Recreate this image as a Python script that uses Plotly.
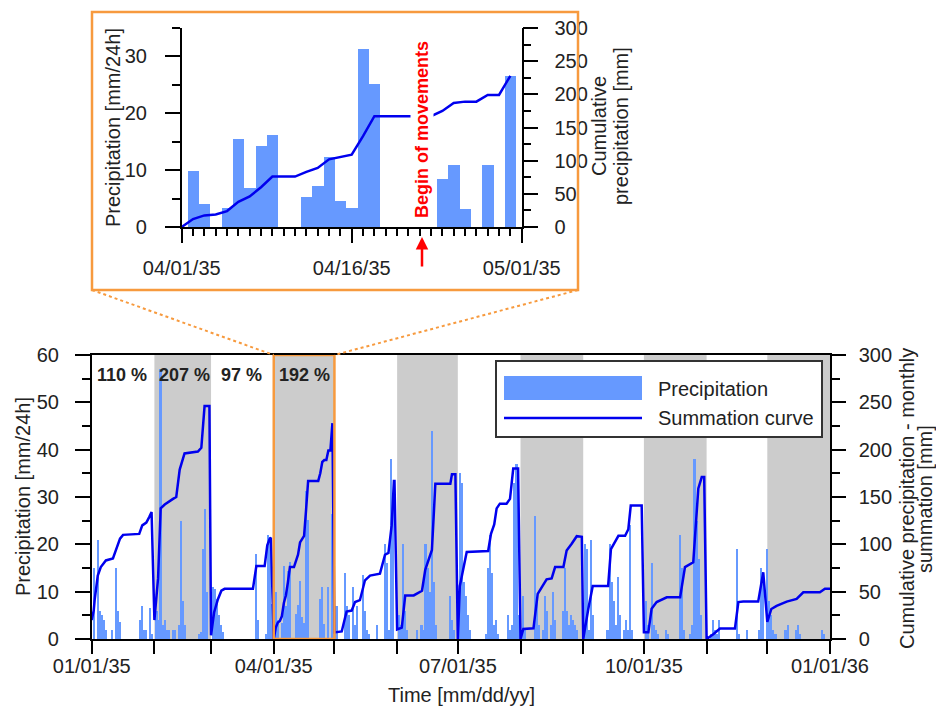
import plotly.graph_objects as go
import pandas as pd

# the page adds an 8 px body margin, so the figure is 16 px smaller than the window
W, H = 928, 699
OFF = 8
FONT = "Liberation Sans, Arial, sans-serif"
BAR_COLOR = "#6699FF"
LINE_COLOR = "#0000EE"
ORANGE = "#F79A3E"
GRAY = "#CCCCCC"

# ---------------- data ----------------
# daily precipitation [mm/24h], one value per day of the month
precip_jan = [15, 0, 21, 6, 5, 4, 2, 0, 0, 2, 0, 15, 6, 3.5, 0, 0, 0, 0, 0, 0, 0, 0, 0, 4, 7, 2, 2, 0, 6.5, 1, 0]
precip_feb = [6, 4, 57, 3, 4, 2, 2, 0, 2, 2, 0, 3, 25, 8, 3, 0, 0, 0, 0, 0, 0, 1, 1.5, 19, 27.5, 10, 0, 0]
precip_mar = [11, 10.5, 8.5, 5, 3, 1.5, 0, 0, 0, 0, 0, 0, 0, 0, 0, 0, 0, 0, 0, 0, 0, 18, 4, 0, 0, 0, 1, 22, 21.5, 7.5, 0]
precip_apr = [9.9, 4.0, 0, 3.3, 15.5, 6.9, 14.3, 16.2, 0, 0, 5.3, 7.2, 12.3, 4.6, 3.3, 31.3, 25.2, 0, 0, 0, 0, 0, 8.4, 10.9, 3.2, 0, 10.9, 0, 26.5, 0]
precip_may = [7, 0, 0, 0, 14, 7, 5, 0, 11, 3, 7, 0, 0, 13.5, 6, 2, 1, 0, 0, 0, 3, 0, 0, 0, 20, 16, 2, 38, 30, 0, 0]
precip_jun = [5, 3, 20, 6, 2, 0, 0, 0, 0, 2, 0, 3, 2, 20, 15, 10, 44, 12, 3, 0, 0, 0, 0, 0, 0, 9, 4, 2, 0, 0]
precip_jul = [35, 33, 12, 9, 5, 2, 0, 0, 0, 0, 0, 0, 0, 1, 15, 22, 14, 3, 4, 1, 0, 0, 0, 0, 5, 2, 3, 33, 37, 5, 0]
precip_aug = [9, 2, 0, 0, 0, 0, 26, 8, 3, 0, 2, 9, 6, 0, 3, 10, 4, 0, 0, 0, 6, 15, 6, 3, 5, 4, 3, 2, 0, 0, 0]
precip_sep = [20, 19, 2, 21, 5, 0, 0, 0, 0, 0, 0, 2, 20, 12, 8, 3, 13, 5, 0, 2, 4, 2, 24, 2, 0, 0, 0, 0, 0, 0]
precip_oct = [8, 3, 0, 16, 3, 2, 1, 0, 0, 0, 2, 1, 0, 0, 0, 0, 0, 22, 15, 2, 0, 0, 1, 3, 38, 25, 17, 5, 0, 0, 0]
precip_nov = [0, 1, 4, 2, 1, 4, 0, 0, 0, 0, 0, 0, 0, 0, 19, 1, 0, 0, 0, 2, 0, 0, 0, 0, 0, 2, 15, 14, 0, 19]
precip_dec = [8, 5, 2, 1, 0, 0, 0, 0, 2, 3, 0, 0, 0, 2, 3, 1, 0, 0, 0, 0, 0, 0, 0, 0, 0, 0, 2, 1, 0, 0, 0]

# monthly summation curve [mm]: (days after the 1st of the month, cumulative value)
sum_jan = [(0, 20), (1, 30), (1.5, 42), (3, 67), (4.5, 76), (7, 83), (10.5, 85), (12, 94), (14, 106), (15.5, 110), (23.5, 111), (25, 120), (27, 123), (28.5, 129), (29.6, 134)]
sum_feb = [(0, 20), (1.8, 64), (3.1, 138), (5.1, 142), (9.2, 148), (10.8, 150), (12.5, 179), (14.9, 196), (21.5, 198), (23.2, 202), (24.8, 246), (27.2, 246)]
sum_mar = [(0, 4), (1.5, 28), (3.4, 42), (5.1, 51), (6.7, 53), (20.7, 53), (22.4, 77), (26.5, 77), (27.8, 99), (29, 106), (29.6, 107)]
sum_apr = [(0, 0), (1, 12), (2, 17.5), (3, 19), (4, 24), (5, 38), (6, 46), (7, 60), (8, 76), (10, 76), (11, 83), (12, 89), (13, 102), (14, 106), (15, 109), (16, 137), (17, 167), (22, 167), (23, 175), (24, 187), (25, 189), (26, 189), (27, 199), (28, 199), (29, 228)]
sum_may = [(0, 7), (3.6, 8), (6, 29), (8.5, 30), (10.2, 39), (12.6, 41), (15.1, 62), (17.6, 67), (22.5, 69), (25, 89), (26.7, 91), (28.3, 120), (29.4, 167), (29.7, 167)]
sum_jun = [(0, 10), (2.3, 12), (4, 46), (8.2, 46), (12.3, 51), (13.9, 73), (17.2, 94), (18.9, 164), (26.3, 164), (27.1, 174), (28.8, 174)]
sum_jul = [(0, 0), (1, 56), (2.2, 70), (4.4, 92), (15, 93), (16.4, 111), (18, 121), (19.2, 138), (20.8, 143), (24.1, 143), (25.8, 148), (27.4, 180), (29.8, 180)]
sum_aug = [(0, 0), (1.4, 10.6), (6.4, 11.3), (8.5, 47.6), (12.9, 63), (15.4, 64), (17.1, 76), (21.2, 76), (22.8, 93.5), (25.3, 100.6), (27.8, 108.6), (30.3, 108)]
sum_sep = [(0, 0), (2.5, 31.7), (4.7, 56), (12.3, 56), (13.7, 95), (17.4, 109), (20.7, 109), (22.3, 116), (23.5, 141), (28.9, 141)]
sum_oct = [(0, 7), (2.2, 7), (3.8, 32), (6.3, 39), (11.3, 44), (17.9, 44), (20.3, 76), (24.4, 81), (26.9, 159), (28.6, 171), (29.8, 171)]
sum_nov = [(0, 0), (3.3, 5), (6.6, 11), (14, 11), (15.7, 39), (18.1, 39.5), (25.5, 39.5), (28, 70.5)]
sum_dec = [(0, 18), (2, 31.7), (4.6, 35), (9.6, 39.5), (14.5, 42.3), (17.8, 49.3), (26, 49.3), (28.5, 53), (31, 53)]

# monthly percentage labels (first four months)
pct_months = ["2035-01-01", "2035-02-01", "2035-03-01", "2035-04-01"]
pct_labels = ["110 %", "207 %", "97 %", "192 %"]

main_tick_labels = ["01/01/35", "", "", "04/01/35", "", "", "07/01/35", "", "", "10/01/35", "", "", "01/01/36"]
inset_tick_dates = ["2035-04-01", "2035-04-16", "2035-05-01"]
inset_tick_labels = ["04/01/35", "04/16/35", "05/01/35"]
shaded_months = ["2035-02-01", "2035-04-01", "2035-06-01", "2035-08-01", "2035-10-01", "2035-12-01"]

# ---------------- build series ----------------
month_starts = pd.date_range("2035-01-01", periods=12, freq="MS")
precip_months = [precip_jan, precip_feb, precip_mar, precip_apr, precip_may, precip_jun,
                 precip_jul, precip_aug, precip_sep, precip_oct, precip_nov, precip_dec]
sum_months = [sum_jan, sum_feb, sum_mar, sum_apr, sum_may, sum_jun,
              sum_jul, sum_aug, sum_sep, sum_oct, sum_nov, sum_dec]


def fmt(ts):
    return ts.strftime("%Y-%m-%d %H:%M:%S")


def bars_for(start, vals):
    # daily totals are drawn at the end of their day
    return [fmt(start + pd.Timedelta(days=i + 1)) for i in range(len(vals))], list(vals)


def curve_for(start, pts):
    return [fmt(start + pd.Timedelta(days=d)) for d, _ in pts], [c for _, c in pts]


bar_x, bar_y, cur_x, cur_y = [], [], [], []
for st, vals, pts in zip(month_starts, precip_months, sum_months):
    bx, by = bars_for(st, vals)
    bar_x += bx
    bar_y += by
    cx, cy = curve_for(st, pts)
    cur_x += cx
    cur_y += cy

apr_bx, apr_by = bars_for(month_starts[3], precip_apr)
apr_cx, apr_cy = curve_for(month_starts[3], sum_apr)

DAY_MS = 86400000

fig = go.Figure()
fig.add_trace(go.Bar(x=bar_x, y=bar_y, width=0.8 * DAY_MS, marker=dict(color=BAR_COLOR, line=dict(width=0)),
                     xaxis="x", yaxis="y", name="Precipitation"))
fig.add_trace(go.Scatter(x=cur_x, y=cur_y, mode="lines", line=dict(color=LINE_COLOR, width=2.5),
                         xaxis="x", yaxis="y2", name="Summation curve"))
fig.add_trace(go.Bar(x=apr_bx, y=apr_by, width=DAY_MS, marker=dict(color=BAR_COLOR, line=dict(width=0)),
                     xaxis="x2", yaxis="y3"))
fig.add_trace(go.Scatter(x=apr_cx, y=apr_cy, mode="lines", line=dict(color=LINE_COLOR, width=2.5),
                         xaxis="x2", yaxis="y4"))


def px(x):
    # window pixel -> paper fraction
    return (x - OFF) / W


def py(y):
    return 1 - (y - OFF) / H


tickfont = dict(family=FONT, size=20, color="#222")
axis_common = dict(showgrid=False, zeroline=False, showline=True, linecolor="black", linewidth=1.5,
                   ticks="outside", tickcolor="black", tickwidth=1.5, tickfont=tickfont,
                   automargin=False)

month_ticks = [fmt(t) for t in pd.date_range("2035-01-01", periods=13, freq="MS")]

fig.update_layout(
    template="none",
    width=W, height=H, margin=dict(l=0, r=0, t=0, b=0, pad=0),
    paper_bgcolor="white", plot_bgcolor="white", showlegend=False, bargap=0,
    font=dict(family=FONT, color="#222"),
    xaxis=dict(**axis_common, type="date", domain=[px(91.7), px(830)], anchor="y",
               range=["2035-01-01", "2036-01-01"], tickmode="array", tickvals=month_ticks,
               ticktext=main_tick_labels, ticklen=13, mirror=True, ticklabelstandoff=-5),
    yaxis=dict(**axis_common, domain=[py(639), py(355)], anchor="x", range=[0, 60],
               tickmode="array", tickvals=[0, 10, 20, 30, 40, 50, 60], ticklen=15,
               ticklabelstandoff=12,
               minor=dict(ticks="outside", ticklen=8, dtick=5, tick0=0, tickcolor="black", tickwidth=1.5)),
    yaxis2=dict(**axis_common, overlaying="y", side="right", anchor="x", range=[0, 300],
                tickmode="array", tickvals=[0, 50, 100, 150, 200, 250, 300], ticklen=14,
                ticklabelstandoff=9,
                minor=dict(ticks="outside", ticklen=8, dtick=25, tick0=0, tickcolor="black", tickwidth=1.5)),
    xaxis2=dict(**axis_common, type="date", domain=[px(181.7), px(521.7)], anchor="y3",
                range=["2035-04-01", "2035-05-01"], tickmode="array", tickvals=inset_tick_dates,
                ticktext=inset_tick_labels, ticklen=14, ticklabelstandoff=8,
                minor=dict(ticks="outside", ticklen=7, dtick=DAY_MS, tick0="2035-04-01",
                           tickcolor="black", tickwidth=1.5)),
    yaxis3=dict(**axis_common, domain=[py(227), py(28)], anchor="x2", range=[0, 35],
                tickmode="array", tickvals=[0, 10, 20, 30], ticklen=15, ticklabelstandoff=14,
                minor=dict(ticks="outside", ticklen=8, dtick=5, tick0=0, tickcolor="black", tickwidth=1.5)),
    yaxis4=dict(**axis_common, overlaying="y3", side="right", anchor="x2", range=[0, 300],
                tickmode="array", tickvals=[0, 50, 100, 150, 200, 250, 300], ticklen=15,
                ticklabelstandoff=12,
                minor=dict(ticks="outside", ticklen=8, dtick=25, tick0=0, tickcolor="black", tickwidth=1.5)),
)

shapes = []
# alternating month shading
for m in shaded_months:
    st = pd.Timestamp(m)
    en = st + pd.offsets.MonthBegin(1)
    shapes.append(dict(type="rect", xref="x", yref="y", x0=fmt(st), x1=fmt(en), y0=0, y1=60,
                       fillcolor=GRAY, line=dict(width=0), layer="below"))
# orange box around April in the main chart
shapes.append(dict(type="rect", xref="x", yref="y", x0="2035-04-01", x1="2035-05-01", y0=0, y1=60,
                   line=dict(color=ORANGE, width=2.5), layer="above"))
# inset frame
shapes.append(dict(type="rect", xref="paper", yref="paper", x0=px(92), x1=px(578), y0=py(290), y1=py(12),
                   line=dict(color=ORANGE, width=2.5), layer="above"))
# connector lines
shapes.append(dict(type="line", xref="paper", yref="paper", x0=px(92), y0=py(290), x1=px(273.7), y1=py(355),
                   line=dict(color=ORANGE, width=2, dash="dot")))
shapes.append(dict(type="line", xref="paper", yref="paper", x0=px(578), y0=py(290), x1=px(334.4), y1=py(355),
                   line=dict(color=ORANGE, width=2, dash="dot")))
# legend box
shapes.append(dict(type="rect", xref="paper", yref="paper", x0=px(496), x1=px(822), y0=py(437), y1=py(361),
                   fillcolor="white", line=dict(color="#333", width=2), layer="above"))
shapes.append(dict(type="rect", xref="paper", yref="paper", x0=px(504), x1=px(642), y0=py(400), y1=py(376),
                   fillcolor=BAR_COLOR, line=dict(width=0), layer="above"))
shapes.append(dict(type="line", xref="paper", yref="paper", x0=px(504), x1=px(642), y0=py(418), y1=py(418),
                   line=dict(color=LINE_COLOR, width=2.5), layer="above"))

annotations = []


def ann(text, x, y, size=20, angle=0, bold=False, color="#222", xanchor="center", **kw):
    t = f"<b>{text}</b>" if bold else text
    d = dict(text=t, x=px(x), y=py(y), xref="paper", yref="paper", showarrow=False,
             textangle=angle, xanchor=xanchor, yanchor="middle",
             font=dict(family=FONT, size=size, color=color))
    d.update(kw)
    annotations.append(d)


# axis titles
ann("Precipitation [mm/24h]", 23, 497, angle=-90)
ann("Cumulative precipitation - monthly", 907, 499, angle=-90)
ann("summation [mm]", 925, 499, angle=-90)
ann("Time [mm/dd/yy]", 461, 695)
ann("Precipitation [mm/24h]", 113, 128, angle=-90)
ann("Cumulative", 599, 126, angle=-90)
ann("precipitation [mm]", 621, 126, angle=-90)
# legend labels
ann("Precipitation", 656, 389, xanchor="left")
ann("Summation curve", 656, 418, xanchor="left")
# percentages
for m, lab in zip(pct_months, pct_labels):
    mid = pd.Timestamp(m) + pd.Timedelta(days=15)
    annotations.append(dict(text=f"<b>{lab}</b>", x=fmt(mid), y=py(375), xref="x", yref="paper",
                            showarrow=False, font=dict(family=FONT, size=18, color="#222"),
                            xanchor="center", yanchor="middle"))
# begin of movements
ann("Begin of movements", 422, 130, size=18, angle=-90, bold=True, color="#FF0000",
    bgcolor="white", borderpad=1)
annotations.append(dict(text="", x=px(422), y=py(237), xref="paper", yref="paper", showarrow=True,
                        ax=0, ay=31, arrowhead=2, arrowsize=1, arrowwidth=2.5, arrowcolor="#FF0000"))

fig.update_layout(shapes=shapes, annotations=annotations)
fig.write_html("out.html")
